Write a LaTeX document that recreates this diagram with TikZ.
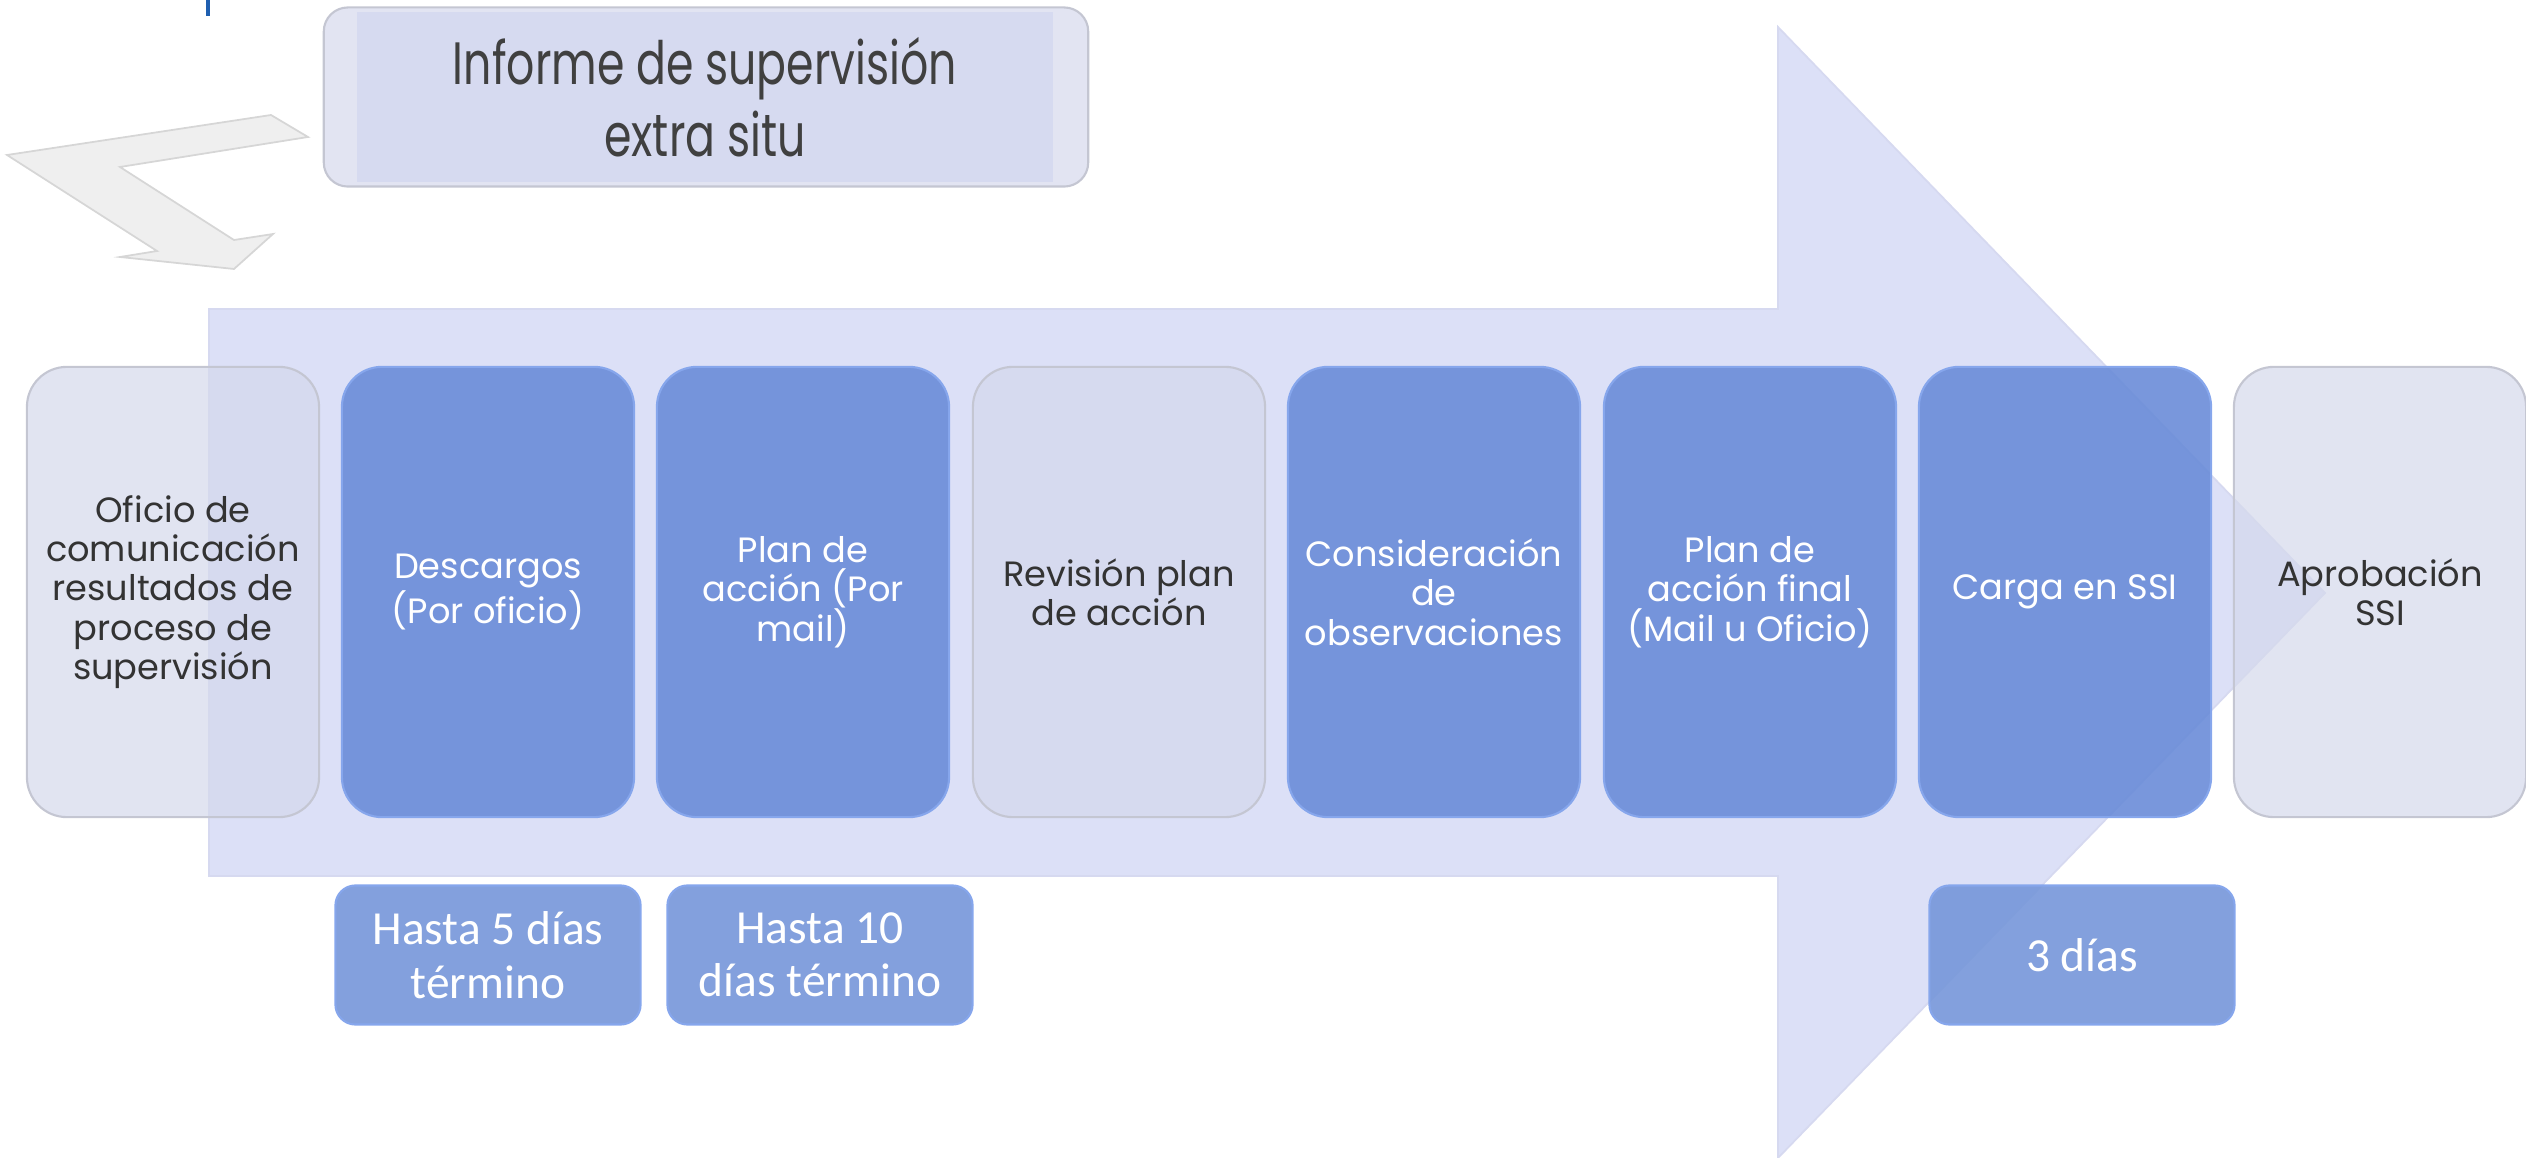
\documentclass[tikz,border=0pt]{standalone}
\usepackage{fontspec}
\setmainfont{Poppins}
\newfontfamily\titlefont[FakeStretch=0.74]{Poppins}
\newfontfamily\calfont{Carlito}
\definecolor{arrowfill}{HTML}{DCE0F7}
\definecolor{arrowedge}{HTML}{D6D9F0}
\definecolor{lightfill}{HTML}{D5D9EC}
\definecolor{lightedge}{HTML}{C4C6D2}
\definecolor{bluefill}{HTML}{6A8CD8}
\definecolor{blueedge}{HTML}{86A6EC}
\definecolor{dayfill}{HTML}{7898DA}
\definecolor{textdark}{HTML}{333333}
\definecolor{titletext}{HTML}{404040}
\definecolor{titleouter}{HTML}{E2E4F2}
\definecolor{titleinner}{HTML}{D6DAF0}
\definecolor{greyfill}{HTML}{EFEFEF}
\definecolor{greyedge}{HTML}{D6D6D6}
\definecolor{markblue}{HTML}{1F5FB0}
\begin{document}
\begin{tikzpicture}[x=0.01cm,y=-0.01cm,
  stepbox/.style={rounded corners=0.4cm, minimum width=2.92cm, minimum height=4.5cm,
    align=center, inner sep=0pt, font=\fontsize{10}{11.2}\selectfont, line width=0.6pt},
  lightbox/.style={stepbox, fill=lightfill, fill opacity=0.72, text opacity=1, draw=lightedge, text=textdark},
  bluebox/.style={stepbox, fill=bluefill, fill opacity=0.9, text opacity=1, draw=blueedge, text=white},
  daybox/.style={rounded corners=0.2cm, minimum width=3.05cm, minimum height=1.39cm, inner sep=0pt,
    fill=dayfill, fill opacity=0.92, text opacity=1, draw=blueedge, line width=0.6pt, text=white, align=center,
    font=\calfont\fontsize{13.5}{15.2}\selectfont},
  titlebox/.style={rounded corners=0.24cm, minimum width=7.64cm, minimum height=1.79cm, inner sep=0pt,
    fill=titleouter, draw=lightedge, line width=0.6pt},
  titleinnerbox/.style={minimum width=6.96cm, minimum height=1.70cm, inner sep=0pt, fill=titleinner,
    align=center, text=titletext, font=\titlefont\fontsize{17}{20.5}\selectfont}]
\useasboundingbox (0,0) rectangle (2526,1158);
% big arrow
\path[fill=arrowfill, draw=arrowedge, line width=0.5pt]
  (209,309) -- (1778,309) -- (1778,27) -- (2325,593) -- (1778,1158) -- (1778,876) -- (209,876) -- cycle;
% small mark
\draw[markblue, line width=1.2pt] (208,0) -- (208,16);
% grey bent arrow
\path[fill=greyfill, draw=greyedge, line width=0.5pt]
  (271,115) -- (308,137) -- (120,167) -- (234,240) -- (273,234) -- (234,269) -- (120,257) -- (157,251) -- (7,155) -- cycle;
% title
\node[titlebox] (title) at (706,97) {};
\node[titleinnerbox] (titletext) at (705,97) {Informe de supervisión\\extra situ};
% steps
\node[lightbox] (s1) at (173,592) {Oficio de\\comunicación\\resultados de\\proceso de\\supervisión};
\node[bluebox]  (s2) at (488,592) {Descargos\\(Por oficio)};
\node[bluebox]  (s3) at (803,592) {Plan de\\acción (Por\\mail)};
\node[lightbox] (s4) at (1119,592) {Revisión plan\\de acción};
\node[bluebox]  (s5) at (1434,592) {Consideración\\de\\observaciones};
\node[bluebox]  (s6) at (1750,592) {Plan de\\acción final\\(Mail u Oficio)};
\node[bluebox]  (s7) at (2065,592) {Carga en SSI};
\node[lightbox] (s8) at (2380,592) {Aprobación\\SSI};
% durations
\node[daybox] (d1) at (488,955) {Hasta 5 días\\término};
\node[daybox] (d2) at (820,955) {Hasta 10\\días término};
\node[daybox] (d3) at (2082,955) {3 días};
\end{tikzpicture}
\end{document}
